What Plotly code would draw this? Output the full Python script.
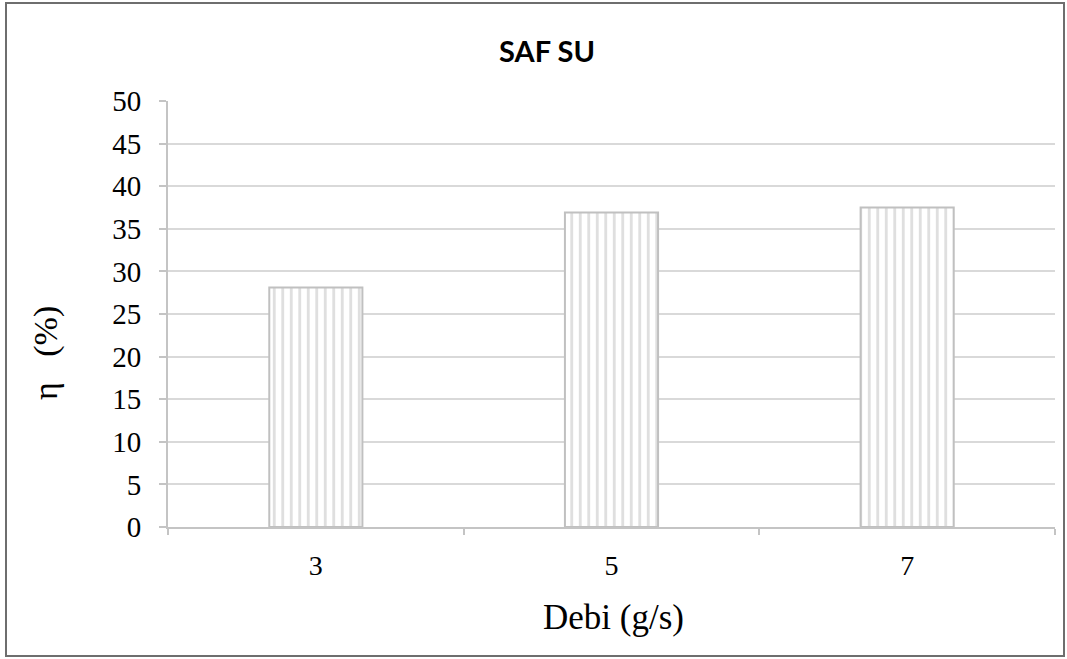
import plotly.graph_objects as go

# Flow rate categories and measured efficiency
debi = ["3", "5", "7"]
efisiensi = [28.1, 36.9, 37.5]
y_ticks = [0, 5, 10, 15, 20, 25, 30, 35, 40, 45, 50]

W, H = 1067, 659
L, R, T, B = 168, 1055, 101, 527  # plot area in pixels

fig = go.Figure(
    go.Bar(
        x=debi,
        y=efisiensi,
        width=0.315,
        marker=dict(
            color="white",
            line=dict(color="#c0c0c0", width=2),
            pattern=dict(shape="|", size=8.5, solidity=0.34,
                         fgcolor="#bfbfbf", bgcolor="white"),
        ),
        hoverinfo="x+y",
    )
)

serif = "Liberation Serif, Times New Roman, serif"

fig.update_layout(
    width=W,
    height=H,
    margin=dict(l=L, r=W - R, t=T, b=H - B),
    paper_bgcolor="white",
    plot_bgcolor="white",
    showlegend=False,
    bargap=0.685,
    font=dict(family=serif, color="black"),
    title=dict(
        text="<b>SAF SU</b>",
        font=dict(family="Lato, Open Sans, sans-serif", size=29, color="black"),
        x=547 / W, xanchor="center", xref="container",
        y=1 - 52 / H, yanchor="middle", yref="container",
    ),
    xaxis=dict(
        type="category",
        tickson="boundaries",
        ticks="outside",
        ticklen=6,
        tickcolor="#c4c4c4",
        tickwidth=1.5,
        showline=True,
        linecolor="#c4c4c4",
        linewidth=2,
        showgrid=False,
        tickfont=dict(family=serif, size=28, color="black"),
        ticklabelstandoff=12,
    ),
    yaxis=dict(
        range=[0, 50],
        tickvals=y_ticks,
        ticks="outside",
        ticklen=7,
        tickcolor="#c4c4c4",
        tickwidth=1.5,
        showline=True,
        linecolor="#c4c4c4",
        linewidth=2,
        showgrid=True,
        gridcolor="#d9d9d9",
        gridwidth=1.5,
        zeroline=False,
        tickfont=dict(family=serif, size=29, color="black"),
        ticklabelstandoff=12,
    ),
)

# Axis titles
fig.add_annotation(
    text="Debi (g/s)", xref="paper", yref="paper",
    x=(613 - L) / (R - L), y=(B - 617) / (B - T),
    showarrow=False, xanchor="center", yanchor="middle",
    font=dict(family=serif, size=35, color="black"),
)
fig.add_annotation(
    text="η\u00a0\u00a0 (%)", xref="paper", yref="paper",
    x=(46 - L) / (R - L), y=(B - 353) / (B - T),
    showarrow=False, xanchor="center", yanchor="middle", textangle=-90,
    font=dict(family=serif, size=34, color="black"),
)

# Outer frame around the chart
fig.add_shape(
    type="rect", xref="paper", yref="paper",
    x0=(6 - L) / (R - L), x1=(1064 - L) / (R - L),
    y0=(B - 656) / (B - T), y1=(B - 3) / (B - T),
    line=dict(color="#6e6e6e", width=2), fillcolor="rgba(0,0,0,0)",
    layer="below",
)

fig.write_html("out.html")
